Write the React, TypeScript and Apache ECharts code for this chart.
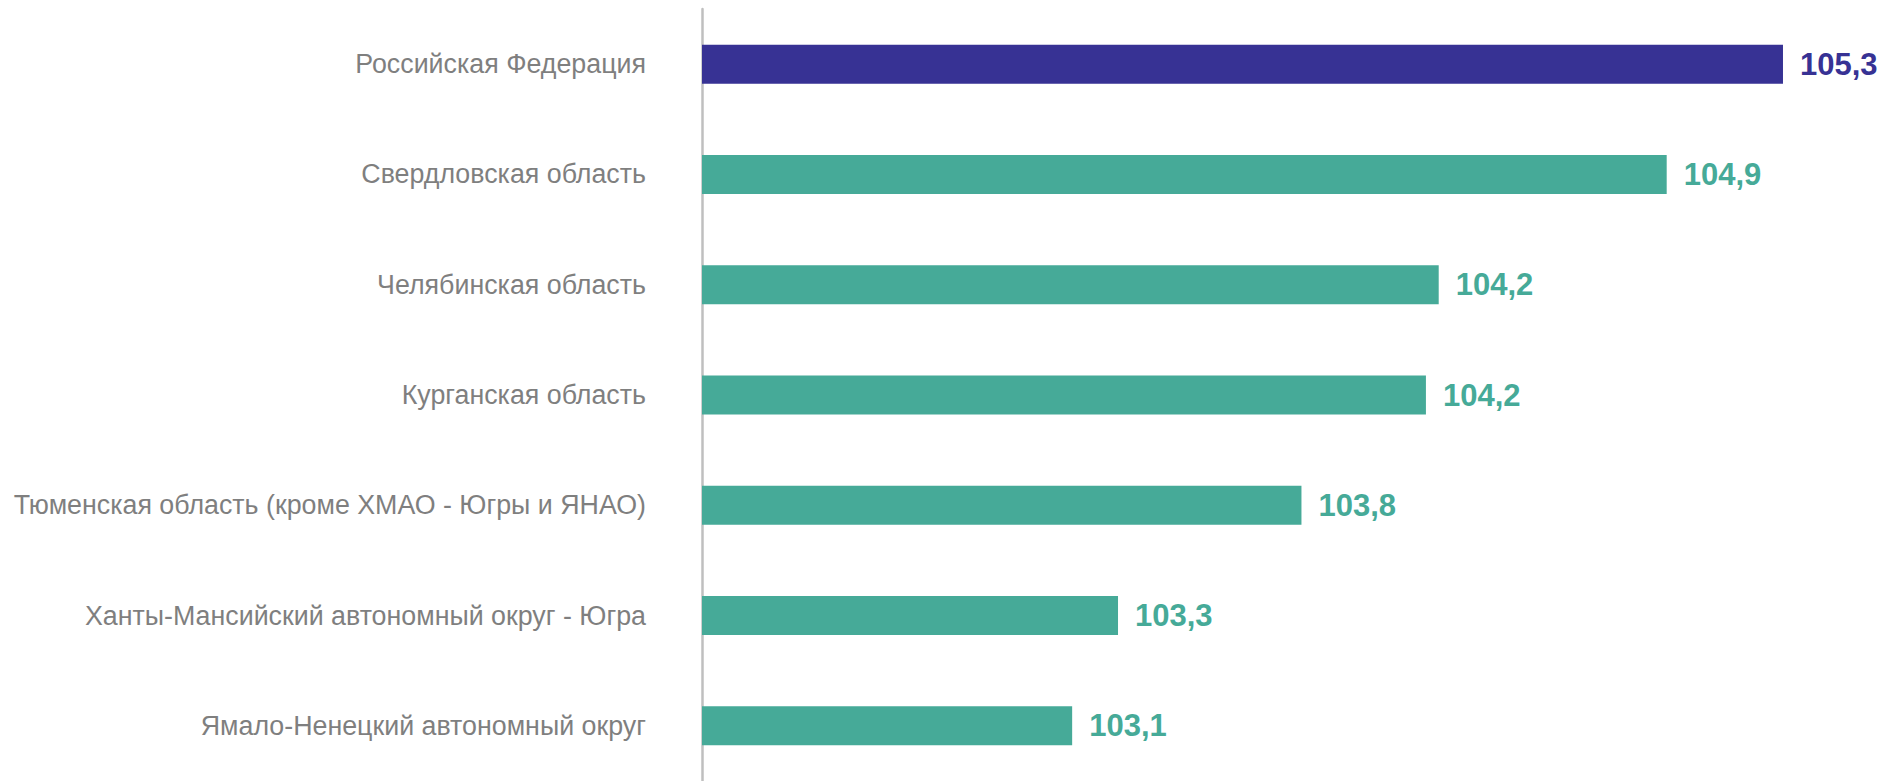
import React, { useEffect, useRef } from "react";
import * as echarts from "echarts";

const categories = [
  "Российская Федерация",
  "Свердловская область",
  "Челябинская область",
  "Курганская область",
  "Тюменская область (кроме ХМАО - Югры и ЯНАО)",
  "Ханты-Мансийский автономный округ - Югра",
  "Ямало-Ненецкий автономный округ",
];
const values = [105.3, 104.945, 104.249, 104.21, 103.83, 103.27, 103.13];
const highlightIndex = 0;

const TEAL = "#46AA98";
const PURPLE = "#373294";

export default function App() {
  const ref = useRef<HTMLDivElement>(null);
  useEffect(() => {
    if (!ref.current) return;
    const chart = echarts.init(ref.current, null, { renderer: "svg" });
    chart.setOption({
      animation: false,
      grid: { left: 702, right: 33.5, top: 9, bottom: -5, containLabel: false },
      xAxis: {
        type: "value",
        min: 102,
        max: 105.5,
        show: false,
      },
      yAxis: {
        type: "category",
        data: categories,
        inverse: true,
        axisLine: { show: true, lineStyle: { color: "#BFBFBF", width: 2.5 } },
        axisTick: { show: false },
        axisLabel: {
          margin: 56,
          color: "#7F7F7F",
          fontSize: 26.8,
          fontFamily: "Liberation Sans, Arial, sans-serif",
          padding: [4, 0, 0, 0],
        },
        splitLine: { show: false },
      },
      series: [
        {
          type: "bar",
          barWidth: 39,
          data: values.map((v, i) => ({
            value: v,
            itemStyle: { color: i === highlightIndex ? PURPLE : TEAL },
            label: { color: i === highlightIndex ? PURPLE : TEAL },
          })),
          label: {
            show: true,
            position: "right",
            distance: 17,
            fontSize: 31,
            fontWeight: "bold",
            fontFamily: "Liberation Sans, Arial, sans-serif",
            formatter: (p: any) => (Math.round(p.value * 10) / 10).toFixed(1).replace(".", ","),
          },
        },
      ],
    });
    return () => chart.dispose();
  }, []);
  return (
    <div
      ref={ref}
      style={{ position: "absolute", left: 0, top: 0, width: 1882, height: 781 }}
    />
  );
}
